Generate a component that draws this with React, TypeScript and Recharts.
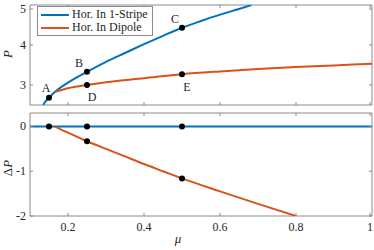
import React from 'react';
import { ComposedChart, Line, Scatter, XAxis, YAxis, ReferenceArea } from 'recharts';

const BLUE = '#0072BD';
const ORANGE = '#D95319';
const AXIS = '#8a8a8a';
const TEXT = '#262626';
const FONT = "'Liberation Serif', 'DejaVu Serif', serif";

const xTicks = [0.2, 0.4, 0.6, 0.8, 1];
const topYTicks = [3, 4, 5];
const bottomYTicks = [-2, -1, 0];

const stripeTop = [
  { mu: 0.135, P: 2.5 }, { mu: 0.14, P: 2.58 }, { mu: 0.15, P: 2.68 }, { mu: 0.166, P: 2.83 },
  { mu: 0.2, P: 3.06 }, { mu: 0.25, P: 3.33 }, { mu: 0.3, P: 3.58 }, { mu: 0.35, P: 3.8 },
  { mu: 0.4, P: 4.02 }, { mu: 0.45, P: 4.23 }, { mu: 0.5, P: 4.43 }, { mu: 0.55, P: 4.6 },
  { mu: 0.6, P: 4.76 }, { mu: 0.65, P: 4.9 }, { mu: 0.683, P: 5.0 },
];
const dipoleTop = [
  { mu: 0.166, P: 2.83 }, { mu: 0.2, P: 2.92 }, { mu: 0.25, P: 3.0 }, { mu: 0.3, P: 3.07 },
  { mu: 0.4, P: 3.17 }, { mu: 0.5, P: 3.27 }, { mu: 0.6, P: 3.34 }, { mu: 0.7, P: 3.4 },
  { mu: 0.8, P: 3.45 }, { mu: 0.9, P: 3.49 }, { mu: 1.0, P: 3.53 },
];
const topPoints = [
  { mu: 0.15, P: 2.68, name: 'A' }, { mu: 0.25, P: 3.33, name: 'B' }, { mu: 0.5, P: 4.43, name: 'C' },
  { mu: 0.25, P: 3.0, name: 'D' }, { mu: 0.5, P: 3.27, name: 'E' },
];

const stripeBottom = [{ mu: 0.1, dP: 0 }, { mu: 1, dP: 0 }];
const dipoleBottom = [
  { mu: 0.166, dP: 0 }, { mu: 0.2, dP: -0.14 }, { mu: 0.25, dP: -0.33 }, { mu: 0.3, dP: -0.5 },
  { mu: 0.35, dP: -0.67 }, { mu: 0.4, dP: -0.84 }, { mu: 0.45, dP: -1.0 }, { mu: 0.5, dP: -1.16 },
  { mu: 0.6, dP: -1.45 }, { mu: 0.7, dP: -1.73 }, { mu: 0.8, dP: -2.0 },
];
const bottomPoints = [
  { mu: 0.15, dP: 0 }, { mu: 0.25, dP: 0 }, { mu: 0.5, dP: 0 },
  { mu: 0.25, dP: -0.33 }, { mu: 0.5, dP: -1.16 },
];

const legendItems = [
  { color: BLUE, label: 'Hor. In 1-Stripe' },
  { color: ORANGE, label: 'Hor. In Dipole' },
];

const labelOffsets: Record<string, [number, number]> = {
  A: [-3, -10], B: [-8, -9], C: [-7, -9], D: [5, 12], E: [5, 13],
};

const TL = 3;
const textStyle = { fontFamily: FONT, fontSize: 12, fill: TEXT };

const bottomTick = (showLabel: boolean) => (props: any) => {
  const { x, y, payload } = props;
  return (
    <g>
      <line x1={x} y1={y} x2={x} y2={y - TL} stroke={AXIS} />
      {showLabel && (
        <text x={x} y={y + 15} textAnchor="middle" fontFamily={FONT} style={textStyle}>
          {String(payload.value)}
        </text>
      )}
    </g>
  );
};
const topTick = (props: any) => {
  const { x, y } = props;
  return <line x1={x} y1={y} x2={x} y2={y + TL} stroke={AXIS} />;
};
const leftTick = (props: any) => {
  const { x, y, payload } = props;
  return (
    <g>
      <line x1={x} y1={y} x2={x + TL} y2={y} stroke={AXIS} />
      <text x={x - 4} y={y + 4} textAnchor="end" fontFamily={FONT} style={textStyle}>
        {String(payload.value)}
      </text>
    </g>
  );
};
const rightTick = (props: any) => {
  const { x, y } = props;
  return <line x1={x} y1={y} x2={x - TL} y2={y} stroke={AXIS} />;
};

const dotShape = (props: any) => {
  const { cx, cy, payload } = props;
  const off = payload && payload.name ? labelOffsets[payload.name] : null;
  return (
    <g>
      <circle cx={cx} cy={cy} r={3} fill="#000" />
      {off && (
        <text x={cx + off[0]} y={cy + off[1] + 4} textAnchor="middle" fontFamily={FONT} style={textStyle}>
          {payload.name}
        </text>
      )}
    </g>
  );
};

const LegendBox = () => (
  <div
    style={{
      position: 'absolute',
      left: 37,
      top: 6,
      border: `1px solid ${AXIS}`,
      background: '#fff',
      padding: '1px 4px 1px 3px',
      fontFamily: FONT,
      fontSize: 12,
      color: TEXT,
      lineHeight: '13px',
      whiteSpace: 'nowrap',
    }}
  >
    {legendItems.map((e) => (
      <div key={e.label} style={{ display: 'flex', alignItems: 'center', height: 13 }}>
        <div style={{ width: 28, height: 2, background: e.color, marginRight: 3 }} />
        <span>{e.label}</span>
      </div>
    ))}
  </div>
);

const axisCommon = {
  type: 'number' as const,
  domain: [0.1, 1],
  ticks: xTicks,
  allowDataOverflow: true,
  axisLine: false,
  tickSize: 0,
  tickMargin: 0,
  tickLine: false,
  dataKey: 'mu',
};
const yCommon = {
  type: 'number' as const,
  allowDataOverflow: true,
  axisLine: false,
  tickSize: 0,
  tickMargin: 0,
  tickLine: false,
};

export default function App() {
  return (
    <div style={{ position: 'absolute', left: 0, top: 0, width: 374, height: 250, background: '#fff', fontFamily: FONT }}>
      <div style={{ position: 'absolute', left: 0, top: 0 }}>
        <ComposedChart width={374} height={110} margin={{ top: 4, right: 1, bottom: 4, left: 0 }} style={{ fontFamily: FONT }}>
          <XAxis xAxisId="b" orientation="bottom" height={1} tick={bottomTick(false)} {...axisCommon} />
          <XAxis xAxisId="t" orientation="top" height={1} tick={topTick} {...axisCommon} />
          <YAxis
            yAxisId="l"
            orientation="left"
            width={30}
            domain={[2.5, 5]}
            ticks={topYTicks}
            tick={leftTick}
            {...yCommon}
            label={{
              content: () => (
                <text x={12} y={54} transform="rotate(-90 12 54)" textAnchor="middle" fontFamily={FONT} style={{ ...textStyle, fontSize: 13, fontStyle: 'italic' }}>
                  P
                </text>
              ),
            }}
          />
          <YAxis yAxisId="r" orientation="right" width={1} domain={[2.5, 5]} ticks={topYTicks} tick={rightTick} {...yCommon} />
          <ReferenceArea xAxisId="b" yAxisId="l" x1={0.1} x2={1} y1={2.5} y2={5} fill="none" stroke={AXIS} strokeWidth={1} ifOverflow="visible" />
          <Line xAxisId="b" yAxisId="l" data={stripeTop} dataKey="P" stroke={BLUE} strokeWidth={2} dot={false} isAnimationActive={false} type="monotone" />
          <Line xAxisId="b" yAxisId="l" data={dipoleTop} dataKey="P" stroke={ORANGE} strokeWidth={2} dot={false} isAnimationActive={false} type="monotone" />
          <Scatter xAxisId="b" yAxisId="l" data={topPoints} dataKey="P" shape={dotShape} isAnimationActive={false} />
        </ComposedChart>
        <LegendBox />
      </div>
      <div style={{ position: 'absolute', left: 0, top: 108 }}>
        <ComposedChart width={374} height={142} margin={{ top: 4, right: 1, bottom: 0, left: 0 }} style={{ fontFamily: FONT }}>
          <XAxis
            xAxisId="b"
            orientation="bottom"
            height={34}
            tick={bottomTick(true)}
            {...axisCommon}
            label={{
              content: () => (
                <text x={178} y={135} textAnchor="middle" fontFamily={FONT} style={{ ...textStyle, fontSize: 13, fontStyle: 'italic' }}>
                  μ
                </text>
              ),
            }}
          />
          <XAxis xAxisId="t" orientation="top" height={1} tick={topTick} {...axisCommon} />
          <YAxis
            yAxisId="l"
            orientation="left"
            width={30}
            domain={[-2, 0.3]}
            ticks={bottomYTicks}
            tick={leftTick}
            {...yCommon}
            label={{
              content: () => (
                <text x={12} y={60} transform="rotate(-90 12 60)" textAnchor="middle" fontFamily={FONT} style={{ ...textStyle, fontSize: 13 }}>
                  Δ<tspan style={{ fontStyle: 'italic' }}>P</tspan>
                </text>
              ),
            }}
          />
          <YAxis yAxisId="r" orientation="right" width={1} domain={[-2, 0.3]} ticks={bottomYTicks} tick={rightTick} {...yCommon} />
          <ReferenceArea xAxisId="b" yAxisId="l" x1={0.1} x2={1} y1={-2} y2={0.3} fill="none" stroke={AXIS} strokeWidth={1} ifOverflow="visible" />
          <Line xAxisId="b" yAxisId="l" data={stripeBottom} dataKey="dP" stroke={BLUE} strokeWidth={2} dot={false} isAnimationActive={false} type="monotone" />
          <Line xAxisId="b" yAxisId="l" data={dipoleBottom} dataKey="dP" stroke={ORANGE} strokeWidth={2} dot={false} isAnimationActive={false} type="monotone" />
          <Scatter xAxisId="b" yAxisId="l" data={bottomPoints} dataKey="dP" shape={dotShape} isAnimationActive={false} />
        </ComposedChart>
      </div>
    </div>
  );
}
